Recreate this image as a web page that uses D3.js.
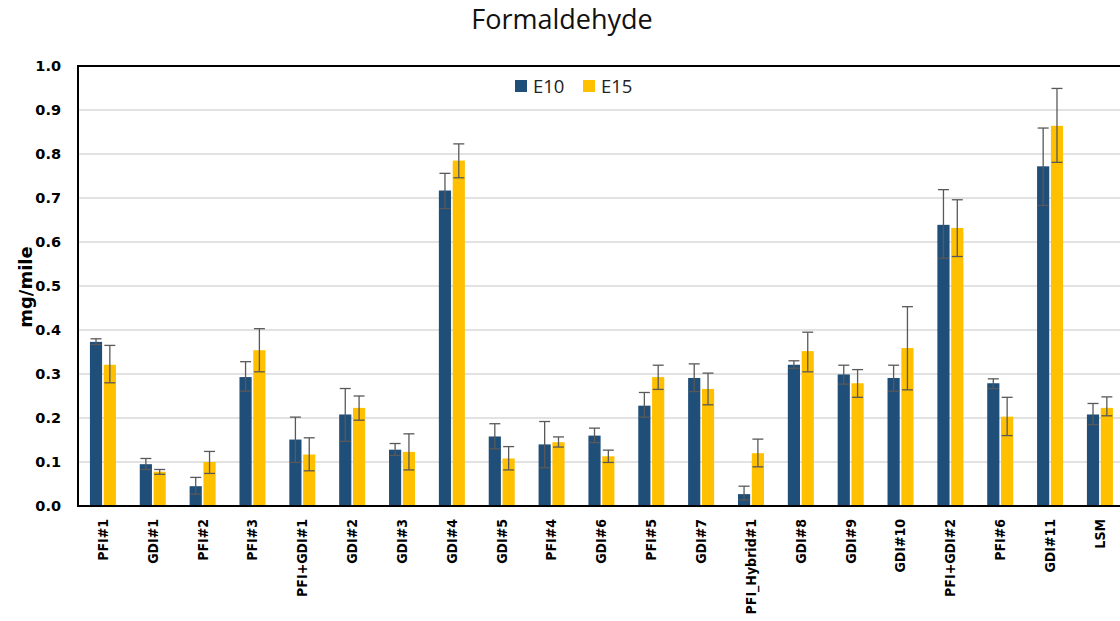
<!DOCTYPE html>
<html lang="en">
<head>
  <meta charset="UTF-8">
  <script src="https://d3js.org/d3.v7.min.js"></script>
  <title>Formaldehyde</title>
  <style>
    body { margin: 0; background: #fff; }
  </style>
</head>
<body>
  <svg id="chart" width="1120" height="621"></svg>
  <script>
    // categories and values (mg/mile)
    var categories = ["PFI#1", "GDI#1", "PFI#2", "PFI#3", "PFI+GDI#1", "GDI#2", "GDI#3", "GDI#4",
      "GDI#5", "PFI#4", "GDI#6", "PFI#5", "GDI#7", "PFI_Hybrid#1", "GDI#8", "GDI#9", "GDI#10",
      "PFI+GDI#2", "PFI#6", "GDI#11", "LSM"];
    var series = ["E10", "E15"];
    var e10 = [0.373, 0.095, 0.045, 0.293, 0.151, 0.208, 0.128, 0.717, 0.158, 0.140, 0.160, 0.228,
      0.291, 0.027, 0.321, 0.299, 0.291, 0.639, 0.279, 0.772, 0.208];
    var e10Lo = [0.367, 0.083, 0.027, 0.261, 0.099, 0.147, 0.115, 0.676, 0.130, 0.087, 0.144, 0.202,
      0.260, 0.014, 0.313, 0.277, 0.261, 0.563, 0.267, 0.683, 0.185];
    var e10Hi = [0.380, 0.108, 0.065, 0.328, 0.202, 0.267, 0.142, 0.756, 0.187, 0.192, 0.177, 0.258,
      0.323, 0.045, 0.330, 0.320, 0.320, 0.719, 0.289, 0.859, 0.233];
    var e15 = [0.321, 0.078, 0.100, 0.354, 0.117, 0.223, 0.123, 0.785, 0.108, 0.145, 0.113, 0.293,
      0.266, 0.120, 0.352, 0.279, 0.359, 0.632, 0.203, 0.864, 0.223];
    var e15Lo = [0.280, 0.072, 0.074, 0.305, 0.080, 0.195, 0.082, 0.746, 0.082, 0.134, 0.099, 0.265,
      0.230, 0.089, 0.305, 0.247, 0.264, 0.567, 0.160, 0.781, 0.205];
    var e15Hi = [0.365, 0.083, 0.124, 0.403, 0.155, 0.250, 0.164, 0.823, 0.135, 0.157, 0.127, 0.320,
      0.302, 0.152, 0.395, 0.310, 0.453, 0.696, 0.247, 0.949, 0.248];
    var yTicks = [0, 0.1, 0.2, 0.3, 0.4, 0.5, 0.6, 0.7, 0.8, 0.9, 1.0];

    var colors = { E10: "#1f4e79", E15: "#ffc000" };

    var svg = d3.select("#chart");
    var plotLeft = 78, plotTop = 66, plotBottom = 506;
    var step = 49.85;
    var plotRight = plotLeft + step * categories.length;

    // scales
    var x = d3.scaleBand().domain(categories).range([plotLeft, plotRight]).paddingInner(0).paddingOuter(0);
    var x1 = d3.scaleBand().domain(series).range([x.bandwidth() / 2 - 13, x.bandwidth() / 2 + 13]).paddingInner(0.12);
    var y = d3.scaleLinear().domain([0, 1]).range([plotBottom, plotTop]);

    // build rows from arrays
    var rows = categories.map(function(c, i) {
      return {
        cat: c,
        vals: [
          { s: "E10", v: e10[i], lo: e10Lo[i], hi: e10Hi[i] },
          { s: "E15", v: e15[i], lo: e15Lo[i], hi: e15Hi[i] }
        ]
      };
    });

    // gridlines
    svg.append("g")
      .selectAll("line")
      .data(yTicks.filter(function(d) { return d > 0 && d < 1; }))
      .enter()
      .append("line")
        .attr("x1", plotLeft).attr("x2", plotRight)
        .attr("y1", function(d) { return y(d); })
        .attr("y2", function(d) { return y(d); })
        .attr("stroke", "#d9d9d9")
        .attr("stroke-width", 1.5);

    // bars
    var groups = svg.append("g")
      .selectAll("g")
      .data(rows)
      .enter()
      .append("g")
        .attr("transform", function(d) { return "translate(" + x(d.cat) + ",0)"; });

    groups.selectAll("rect")
      .data(function(d) { return d.vals; })
      .enter()
      .append("rect")
        .attr("x", function(d) { return x1(d.s); })
        .attr("width", x1.bandwidth())
        .attr("y", function(d) { return y(d.v); })
        .attr("height", function(d) { return y(0) - y(d.v); })
        .attr("fill", function(d) { return colors[d.s]; });

    // error bars
    var err = groups.selectAll("g.err")
      .data(function(d) { return d.vals; })
      .enter()
      .append("g")
        .attr("class", "err")
        .attr("stroke", "#595959")
        .attr("stroke-width", 1.3);

    err.append("line")
      .attr("x1", function(d) { return x1(d.s) + x1.bandwidth() / 2; })
      .attr("x2", function(d) { return x1(d.s) + x1.bandwidth() / 2; })
      .attr("y1", function(d) { return y(d.lo); })
      .attr("y2", function(d) { return y(d.hi); });

    ["lo", "hi"].forEach(function(k) {
      err.append("line")
        .attr("x1", function(d) { return x1(d.s) + x1.bandwidth() / 2 - 5.5; })
        .attr("x2", function(d) { return x1(d.s) + x1.bandwidth() / 2 + 5.5; })
        .attr("y1", function(d) { return y(d[k]); })
        .attr("y2", function(d) { return y(d[k]); });
    });

    // plot border
    svg.append("rect")
      .attr("x", plotLeft).attr("y", plotTop)
      .attr("width", plotRight - plotLeft).attr("height", plotBottom - plotTop)
      .attr("fill", "none")
      .attr("stroke", "#000")
      .attr("stroke-width", 2);

    // y axis
    var yAxis = svg.append("g")
      .attr("transform", "translate(" + plotLeft + ",0)")
      .call(d3.axisLeft(y).tickValues(yTicks).tickFormat(d3.format(".1f")).tickSize(0).tickPadding(17));
    yAxis.select(".domain").remove();
    yAxis.selectAll("text")
      .attr("font-family", "DejaVu Sans")
      .attr("font-weight", "bold")
      .attr("font-size", 14.5)
      .attr("fill", "#000");

    // x axis
    var xAxis = svg.append("g")
      .attr("transform", "translate(0," + plotBottom + ")")
      .call(d3.axisBottom(x).tickSize(0));
    xAxis.select(".domain").remove();
    xAxis.selectAll("text")
      .attr("font-family", "DejaVu Sans Condensed")
      .attr("font-weight", "bold")
      .attr("font-size", 14)
      .attr("fill", "#000")
      .attr("text-anchor", "end")
      .attr("dy", "0.35em")
      .attr("transform", "translate(0,13) rotate(-90)")
      .attr("x", 0)
      .attr("y", 0);

    // y axis title
    svg.append("text")
      .attr("transform", "translate(32,287) rotate(-90)")
      .attr("text-anchor", "middle")
      .attr("font-family", "DejaVu Sans")
      .attr("font-weight", "bold")
      .attr("font-size", 18)
      .text("mg/mile");

    // title
    svg.append("text")
      .attr("x", 562).attr("y", 29)
      .attr("text-anchor", "middle")
      .attr("font-family", "Open Sans")
      .attr("font-size", 27)
      .attr("fill", "#111")
      .text("Formaldehyde");

    // legend
    var legend = svg.append("g")
      .selectAll("g")
      .data(series)
      .enter()
      .append("g")
        .attr("transform", function(d, i) { return "translate(" + (515 + i * 68) + ",80)"; });
    legend.append("rect")
      .attr("width", 12).attr("height", 12)
      .attr("fill", function(d) { return colors[d]; });
    legend.append("text")
      .attr("x", 18).attr("y", 12.5)
      .attr("font-family", "Open Sans")
      .attr("font-size", 18.5)
      .attr("fill", "#222")
      .text(function(d) { return d; });
  </script>
</body>
</html>
